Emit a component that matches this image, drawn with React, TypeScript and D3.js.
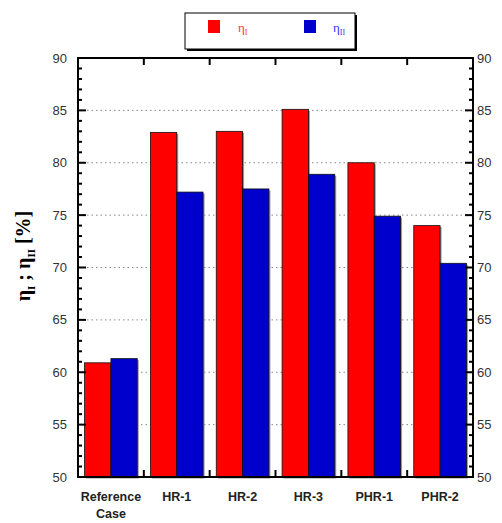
import React from "react";
import * as d3 from "d3";

const categories = ["Reference Case", "HR-1", "HR-2", "HR-3", "PHR-1", "PHR-2"];
const etaI = [60.9, 82.9, 83.0, 85.1, 80.0, 74.0];
const etaII = [61.3, 77.2, 77.5, 78.9, 74.9, 70.4];
const yTicks = [50, 55, 60, 65, 70, 75, 80, 85, 90];
const minorTicks = d3.range(50, 91, 1);

const W = 502, H = 523;
const L = 78, R = 473, T = 58, B = 477;

export default function App() {
  const x = d3.scaleBand<string>().domain(categories).range([L, R]).padding(0);
  const y = d3.scaleLinear().domain([50, 90]).range([B, T]);
  const bw = x.bandwidth() * 0.4;
  const off = x.bandwidth() * 0.1;
  const sans = "'Liberation Sans', Arial, sans-serif";
  const serif = "'Liberation Serif', 'Times New Roman', serif";
  const bounds = categories.slice(1).map((c) => x(c)!);
  return (
    <svg width={W} height={H} style={{ position: "absolute", left: 0, top: 0 }}>
      <rect width={W} height={H} fill="#fff" />
      {yTicks.filter((t) => t > 50 && t < 90).map((t) => (
        <line key={t} x1={L} x2={R} y1={y(t)} y2={y(t)} stroke="#888" strokeWidth={1} strokeDasharray="1.5,3" />
      ))}
      {categories.map((c, i) => {
        const x0 = x(c)! + off;
        return (
          <g key={c}>
            <rect x={x0 + 1.5} y={y(etaI[i]) + 1.5} width={bw} height={B - y(etaI[i])} fill="#999" />
            <rect x={x0 + bw + 1.5} y={y(etaII[i]) + 1.5} width={bw} height={B - y(etaII[i])} fill="#999" />
            <rect x={x0} y={y(etaI[i])} width={bw} height={B - y(etaI[i])} fill="#ff0000" stroke="#111" strokeWidth={0.8} />
            <rect x={x0 + bw} y={y(etaII[i])} width={bw} height={B - y(etaII[i])} fill="#0000cc" stroke="#111" strokeWidth={0.8} />
          </g>
        );
      })}
      <rect x={L} y={T} width={R - L} height={B - T} fill="none" stroke="#000" strokeWidth={2} />
      {minorTicks.map((t) => {
        const major = t % 5 === 0;
        const len = major ? 8 : 4;
        return (
          <g key={t}>
            <line x1={L} x2={L + len} y1={y(t)} y2={y(t)} stroke="#000" strokeWidth={2} />
            <line x1={R} x2={R - len} y1={y(t)} y2={y(t)} stroke="#000" strokeWidth={2} />
          </g>
        );
      })}
      {bounds.map((b, i) => (
        <g key={i}>
          <line x1={b} x2={b} y1={B} y2={B - 7} stroke="#000" strokeWidth={2} />
          <line x1={b} x2={b} y1={T} y2={T + 7} stroke="#000" strokeWidth={2} />
        </g>
      ))}
      {yTicks.map((t) => (
        <g key={t} fontFamily={sans} fontSize={13} fill="#333">
          <text x={L - 11} y={y(t)} dy="0.35em" textAnchor="end">{t}</text>
          <text x={R + 4} y={y(t)} dy="0.35em" textAnchor="start">{t}</text>
        </g>
      ))}
      {categories.map((c) => {
        const cx = x(c)! + x.bandwidth() / 2;
        const parts = c === "Reference Case" ? ["Reference", "Case"] : [c];
        return (
          <text key={c} x={cx} y={501} textAnchor="middle" fontFamily={sans} fontWeight="bold" fontSize={12.5} fill="#222">
            {parts.map((p, j) => (
              <tspan key={j} x={cx} dy={j === 0 ? 0 : 17}>{p}</tspan>
            ))}
          </text>
        );
      })}
      <text transform={`translate(30,256) rotate(-90)`} textAnchor="middle" fontFamily={serif} fontWeight="bold" fontSize={20} fill="#000">
        η<tspan fontSize={11} dy={5}>I</tspan><tspan dy={-5}> ; η</tspan><tspan fontSize={11} dy={5}>II</tspan><tspan dy={-5}> [%]</tspan>
      </text>
      <rect x={187} y={15} width={170} height={36} fill="#000" />
      <rect x={185} y={13} width={170} height={36} fill="#fff" stroke="#000" strokeWidth={1} />
      <rect x={208} y={20} width={12} height={13} fill="#ff0000" />
      <text x={238} y={32} fontFamily={serif} fontSize={13} fill="#ff3333">η<tspan fontSize={8} dy={3}>I</tspan></text>
      <rect x={304} y={20} width={12} height={13} fill="#0000cc" />
      <text x={333} y={32} fontFamily={serif} fontSize={13} fill="#3333ff">η<tspan fontSize={8} dy={3}>II</tspan></text>
    </svg>
  );
}
